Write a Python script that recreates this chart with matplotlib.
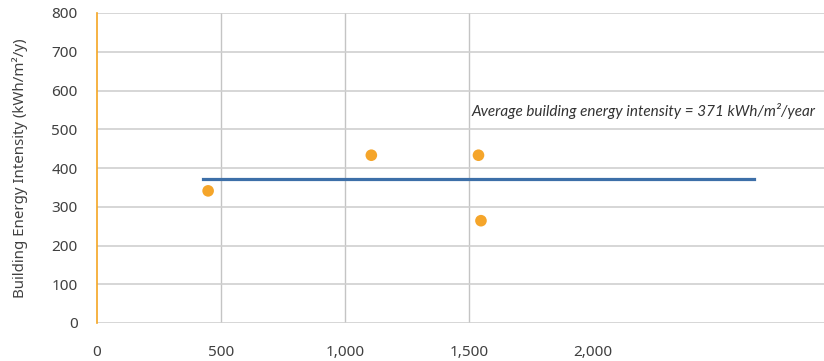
import matplotlib
matplotlib.use("Agg")
import matplotlib.pyplot as plt
from matplotlib.ticker import FuncFormatter

# building data: floor area vs energy intensity
floor_area = [448, 1106, 1538, 1548]
intensity = [341, 433, 433, 264]

avg_intensity = 371
avg_span = [426, 2650]

x_ticks = [0, 500, 1000, 1500, 2000]
y_ticks = [0, 100, 200, 300, 400, 500, 600, 700, 800]

plt.rcParams['font.family'] = ['Noto Sans', 'DejaVu Sans']

fig = plt.figure(figsize=(8.24, 3.61), dpi=100)
ax = fig.add_axes([97 / 824, 1 - 323 / 361, 1 - 97 / 824, 310 / 361])

ax.set_xlim(0, 2931)
ax.set_ylim(0, 800)
ax.set_xticks(x_ticks)
ax.set_yticks(y_ticks)
ax.xaxis.set_major_formatter(FuncFormatter(lambda v, p: f"{int(v):,}"))

# horizontal grid everywhere, vertical grid only at 500..1500
ax.grid(axis='y', color='#d0d0d0', linewidth=1.2)
for xv in [500, 1000, 1500]:
    ax.axvline(xv, color='#c4c4c4', linewidth=1.0, zorder=0.5)
ax.set_axisbelow(True)

for side in ['top', 'right', 'bottom']:
    ax.spines[side].set_visible(False)
ax.spines['left'].set_color('#f5a623')
ax.spines['left'].set_linewidth(1.2)

ax.tick_params(axis='both', length=0, labelsize=11, labelcolor='#404040')
ax.tick_params(axis='y', pad=14)
ax.tick_params(axis='x', pad=16)

ax.plot(avg_span, [avg_intensity, avg_intensity], color='#3d6fa8', linewidth=2.3, zorder=3)
ax.scatter(floor_area, intensity, s=70, color='#f5a52a', edgecolors='none', zorder=4)

ax.text(1510, 547, f"Average building energy intensity = {avg_intensity} kWh/m²/year",
        fontsize=11, style='italic', color='#333333', family=['Lato', 'DejaVu Sans'],
        ha='left', va='center')

ax.set_ylabel("Building Energy Intensity (kWh/m²/y)", fontsize=10.8, color='#404040', labelpad=17)

fig.savefig("out.png", dpi=100)
